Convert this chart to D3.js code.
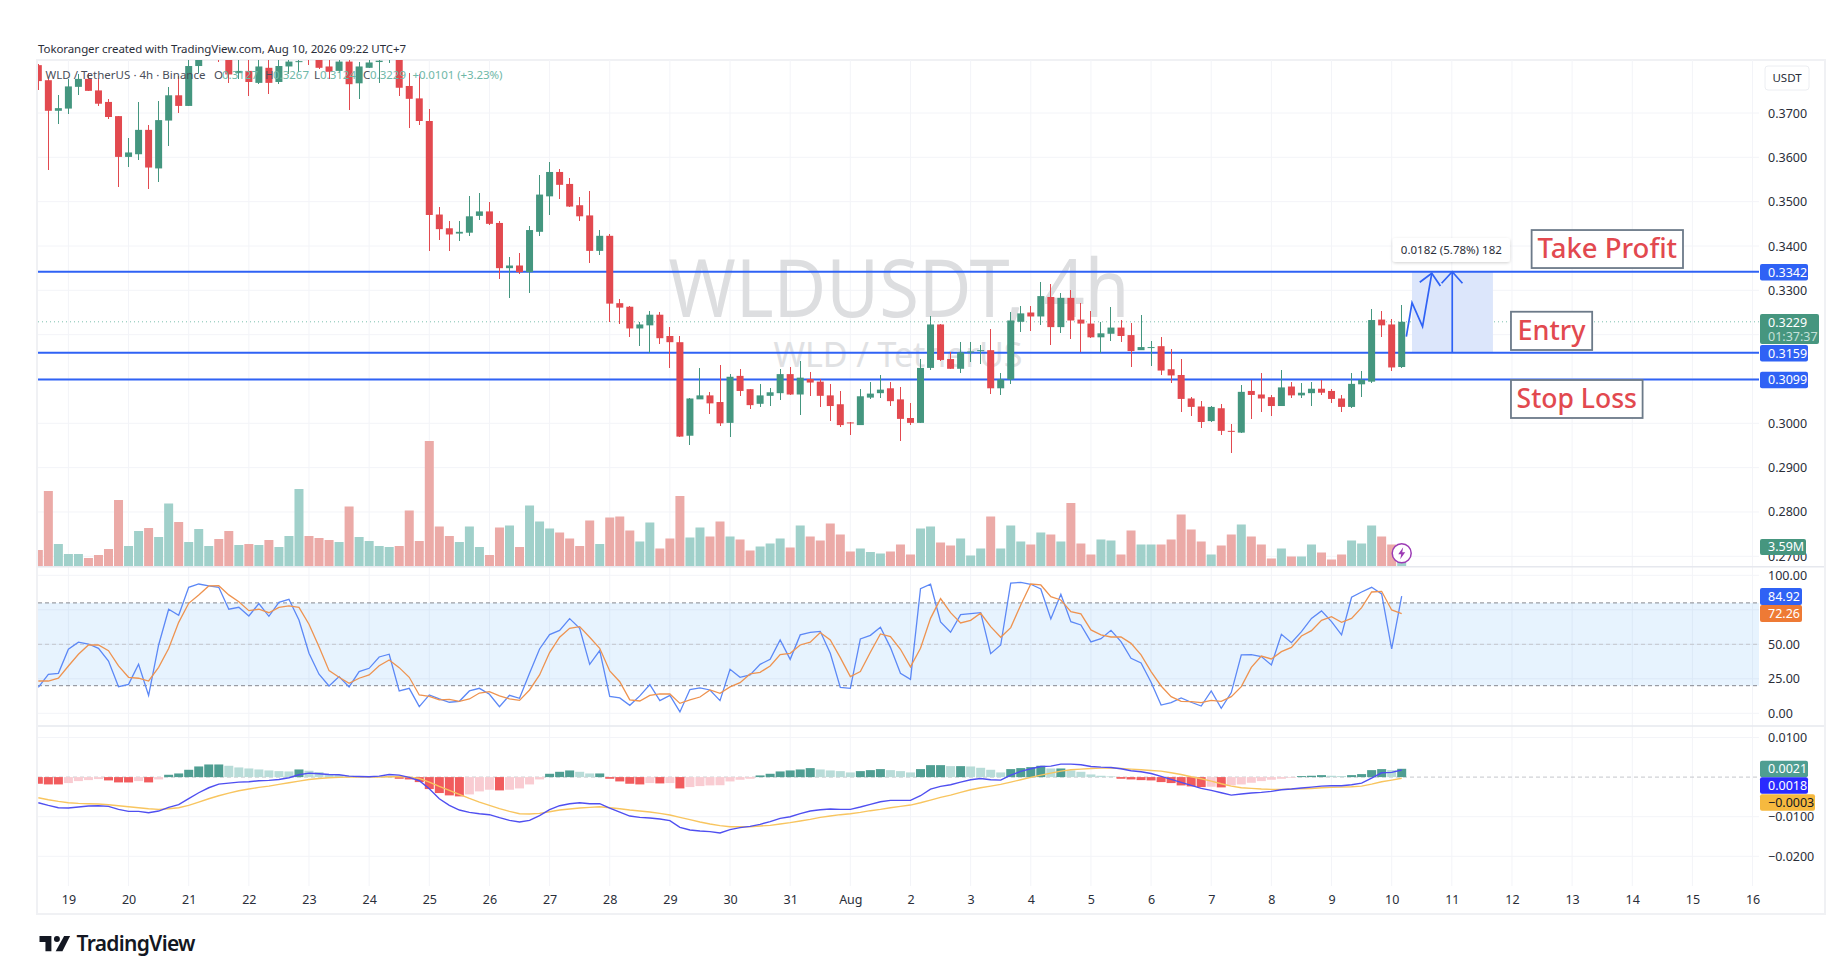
<!DOCTYPE html>
<html>
<head>
<meta charset="utf-8">
<script src="https://cdnjs.cloudflare.com/ajax/libs/d3/7.8.5/d3.min.js"></script>
<style>
html,body{margin:0;padding:0;background:#fff;overflow:hidden}
svg{display:block}
text{font-family:"Noto Sans",sans-serif}
</style>
</head>
<body>
<svg id="c" width="1838" height="974"></svg>
<script>
const opens=[.3808,.3774,.3705,.3710,.3759,.3777,.3751,.3725,.3693,.3601,.3607,.3662,.3575,.3683,.3740,.3716,.3806,.3830,.3835,.3825,.3790,.3795,.3768,.3802,.3770,.3805,.3815,.3835,.3830,.3805,.3795,.3816,.3767,.3802,.3815,.3825,.3835,.3761,.3733,.3682,.3471,.3440,.3428,.3430,.3468,.3478,.3452,.3350,.3356,.3341,.3432,.3512,.3567,.3540,.3492,.3469,.3389,.3423,.3271,.3263,.3214,.3221,.3245,.3197,.3183,.2972,.3054,.3063,.3048,.3001,.3107,.3077,.3044,.3062,.3068,.3111,.3065,.3100,.3094,.3063,.3043,.3002,.2996,.3058,.3068,.3079,.3054,.3012,.3001,.3125,.3223,.3145,.3123,.3161,.3163,.3165,.3079,.3099,.3229,.3250,.3241,.3285,.3217,.3283,.3234,.3225,.3194,.3202,.3216,.3199,.3165,.3171,.3174,.3122,.3109,.3056,.3038,.3005,.3034,.2983,.2979,.3073,.3065,.3059,.3039,.3083,.3063,.3068,.3078,.3073,.3056,.3037,.3088,.3094,.3234,.3223,.3127];
const highs=[.3810,.3776,.3740,.3777,.3787,.3791,.3780,.3731,.3693,.3644,.3724,.3673,.3727,.3759,.3783,.3825,.3840,.3850,.3850,.3840,.3825,.3825,.3825,.3825,.3825,.3830,.3825,.3850,.3845,.3825,.3825,.3825,.3815,.3825,.3825,.3840,.3845,.3790,.3787,.3708,.3487,.3456,.3456,.3512,.3520,.3500,.3456,.3376,.3385,.3445,.3560,.3589,.3574,.3553,.3511,.3523,.3436,.3426,.3280,.3265,.3229,.3254,.3250,.3218,.3198,.3056,.3125,.3070,.3132,.3112,.3123,.3077,.3088,.3079,.3123,.3127,.3141,.3116,.3099,.3088,.3074,.3004,.3077,.3094,.3110,.3093,.3081,.3045,.3146,.3243,.3223,.3160,.3183,.3183,.3176,.3212,.3113,.3250,.3265,.3265,.3318,.3314,.3293,.3301,.3271,.3253,.3229,.3262,.3233,.3226,.3244,.3186,.3194,.3167,.3144,.3059,.3050,.3038,.3044,.2998,.3087,.3098,.3114,.3064,.3120,.3094,.3090,.3093,.3098,.3077,.3065,.3114,.3118,.3258,.3254,.3235,.3267];
const lows=[.3752,.3572,.3676,.3698,.3741,.3750,.3716,.3687,.3534,.3579,.3594,.3529,.3544,.3625,.3701,.3716,.3790,.3825,.3816,.3768,.3776,.3738,.3765,.3744,.3765,.3787,.3793,.3808,.3800,.3776,.3791,.3707,.3732,.3802,.3768,.3812,.3738,.3667,.3673,.3389,.3414,.3389,.3412,.3423,.3459,.3448,.3326,.3283,.3336,.3295,.3423,.3469,.3505,.3487,.3456,.3362,.3380,.3229,.3223,.3194,.3174,.3158,.3180,.3125,.2968,.2952,.3054,.3021,.2995,.2968,.3062,.3032,.3037,.3039,.3053,.3064,.3019,.3062,.3037,.3005,.2992,.2974,.2996,.3055,.3058,.3039,.2959,.2997,.3001,.3121,.3141,.3123,.3113,.3138,.3134,.3067,.3065,.3088,.3205,.3208,.3222,.3177,.3204,.3190,.3160,.3193,.3158,.3186,.3184,.3128,.3165,.3129,.3108,.3092,.3026,.3017,.2990,.3003,.2974,.2932,.2979,.3010,.3026,.3017,.3038,.3056,.3057,.3039,.3064,.3045,.3026,.3034,.3059,.3090,.3194,.3117,.3124];
const closes=[.3772,.3705,.3711,.3760,.3777,.3750,.3721,.3691,.3601,.3611,.3662,.3577,.3684,.3740,.3716,.3806,.3825,.3840,.3825,.3787,.3795,.3770,.3805,.3768,.3806,.3816,.3817,.3820,.3802,.3793,.3816,.3765,.3805,.3814,.3818,.3830,.3757,.3732,.3682,.3470,.3438,.3426,.3432,.3467,.3478,.3450,.3350,.3356,.3341,.3436,.3516,.3567,.3538,.3489,.3467,.3389,.3423,.3270,.3261,.3214,.3223,.3245,.3192,.3183,.2970,.3056,.3063,.3045,.3000,.3105,.3073,.3041,.3063,.3070,.3111,.3065,.3103,.3092,.3062,.3039,.2996,.3000,.3061,.3067,.3076,.3050,.3010,.3001,.3125,.3223,.3143,.3123,.3160,.3162,.3165,.3079,.3099,.3232,.3248,.3241,.3287,.3217,.3283,.3232,.3225,.3194,.3203,.3216,.3197,.3163,.3172,.3172,.3119,.3108,.3055,.3037,.3003,.3037,.2983,.2981,.3071,.3064,.3056,.3039,.3081,.3063,.3069,.3078,.3069,.3055,.3037,.3089,.3098,.3233,.3221,.3126,.3229];
const volumes=[3.2,15,4.4,2.4,2.4,1.6,2.2,3.4,13.2,4,7,7.6,5.8,12.5,8.8,4.8,7.4,4,5.4,7,4.2,4.4,4.2,5.2,3.8,6,15.4,6,5.6,5.2,4.8,11.9,5.8,5,4,3.8,4,11.1,5,25,7.9,6,4.8,7.9,3.8,2.2,7.7,8.1,3.8,12.1,8.9,7.5,6.7,5.5,4,9.1,4.4,9.7,9.9,7.1,4.9,8.7,3.5,5.5,14,5.7,7.7,5.9,8.9,5.9,5.3,3.1,3.9,4.5,5.5,3.7,8.1,5.9,5.1,8.5,6.3,2.9,3.5,2.8,2.5,2.9,4.3,2.3,7.5,7.9,4.7,4.1,5.5,2.1,3.5,9.9,3.5,8.1,4.9,4.3,6.7,6.3,4.9,12.6,4.5,2.3,5.3,5.1,2.3,7.1,4.3,4.3,4.3,5.3,10.3,7.3,4.9,2.3,4.1,6.3,8.3,5.9,4.3,1.5,3.5,1.9,1.9,4.3,2.7,1.3,2.3,5.1,4.5,8.1,5.9,4.3,3.59];
const stochK=[18.8,28.3,29,46.4,51.5,50.2,47.1,37.9,19.3,21,35.5,13,49.5,75.4,71,91.3,93.7,92.3,91.3,75.4,76.8,70.5,79.5,70.3,80.4,82.6,67.6,43.5,28.3,19.8,26.6,19.1,30.2,32.6,40.8,42.8,16.2,18.1,4.8,13.3,10.4,8,8.7,16.2,18.1,13.8,4.8,13,10.9,29,46.6,57,60.1,68.6,61.6,35.5,45.4,12.3,11.1,5.8,12.6,20.8,9.2,13,1,17.2,18.4,16.9,9.2,31.9,26.1,27.8,35.5,39.1,53.1,39.1,56.8,58.7,59.4,43.5,18.8,18.1,53.9,56.5,62.3,47.8,29,24.6,90.3,93.5,66.2,58.7,71.5,72.2,72.9,43.2,49.5,94.4,94.9,93.5,90.1,68.4,86.2,66.4,64,51.7,54.1,60.1,51.9,39.9,36.5,22.5,6,7.7,11.1,8,5.3,16.2,3.6,15,42.3,42.5,41.1,35,57.2,51.2,59.2,68.8,74.2,66.4,56.8,84.1,87.9,91.3,86.5,46.6,84.92];
const stochD=[23.4,23.4,25.4,34.3,42.8,49.5,49.5,45.4,34.3,26.1,25.4,23.4,33.3,46.9,65.9,79.7,85.8,92.3,92.5,85.8,80.9,74.4,75.4,72.9,76.8,77.8,76.8,64.5,48.3,30.9,26.1,21.7,25.4,27.8,34.5,38.6,33.1,26.1,13.3,12.3,9.7,10.1,8.7,10.4,14.7,15.7,12.6,10.4,9.4,16.9,27.8,44,55.1,61.6,62.8,55.1,47.1,30.7,22.9,9.7,8.9,13,14,14,7.2,9.7,11.8,16.9,14.5,19.1,22.2,28.5,29.7,34.3,42.5,43.5,49.5,51.5,58.5,53.1,40.3,26.6,30.2,44.2,57.5,55.6,46.4,33.6,47.1,68.8,83.1,72.9,65.5,67.4,72.5,62.8,55.1,62.1,78.5,93.7,93,84.5,82.1,73.7,72,60.4,56.8,55.3,55.3,50.7,42.3,30.2,19.8,12.1,8.7,8.5,7.7,9.4,8.7,12.1,19.3,33.3,41.5,39.4,44.7,47.8,56,59.9,67.4,70,65.9,68.8,76.6,87.9,88.4,74.9,72.26];
const macdHist=[-.00168,-.00185,-.00185,-.00151,-.00101,-.00076,-.0005,-.00084,-.00134,-.00135,-.00101,-.00134,-.00059,.00059,.00092,.00185,.00269,.00319,.00319,.00286,.00244,.00218,.00193,.00168,.00151,.00143,.00193,.0016,.00126,.00067,.0005,.00034,.00025,.00025,.00017,.00017,-.00042,-.00059,-.00126,-.00302,-.00403,-.00462,-.00487,-.00437,-.00361,-.00319,-.00336,-.00319,-.00286,-.00185,-.00059,.00084,.00134,.00168,.00134,.00092,.00092,-.00042,-.00109,-.00168,-.00185,-.00151,-.0016,-.00151,-.00286,-.00252,-.00227,-.0021,-.00205,-.00109,-.00067,-.00042,.00042,.00084,.00143,.00168,.00193,.00227,.00193,.00168,.00151,.00118,.00151,.00176,.00202,.00176,.00151,.00118,.00202,.00302,.00302,.00277,.00277,.00269,.00235,.00185,.00118,.00202,.00227,.00252,.00286,.00218,.00218,.00168,.00134,.00067,.00034,.00017,-.00042,-.00059,-.00076,-.00084,-.00126,-.00151,-.0021,-.00235,-.00252,-.00244,-.0026,-.0021,-.00185,-.00143,-.00101,-.00067,-.00042,-.00017,.00025,.00034,.0005,.00034,.00025,.0005,.00076,.00176,.00202,.00176,.0021];
const macdLine=[-.00647,-.00714,-.00773,-.00781,-.00756,-.00731,-.00722,-.00739,-.00815,-.00865,-.00865,-.00899,-.00857,-.00764,-.00697,-.00546,-.00395,-.00269,-.00176,-.00151,-.00126,-.00118,-.00092,-.00084,-.00059,-.00017,.00059,.00101,.00084,.00067,.00059,.00025,.00017,.00008,.00025,.00067,.0005,-.00008,-.00092,-.00294,-.00546,-.00714,-.00832,-.0089,-.00924,-.00949,-.01025,-.01092,-.01134,-.01092,-.00974,-.00823,-.00722,-.00672,-.00647,-.00672,-.00672,-.00781,-.00882,-.00983,-.01016,-.01033,-.01058,-.011,-.01268,-.01336,-.01361,-.01378,-.01411,-.01327,-.01277,-.01243,-.01193,-.01126,-.01042,-.01,-.00924,-.00857,-.00823,-.00806,-.00815,-.00815,-.00756,-.00689,-.00622,-.00588,-.00588,-.00588,-.0047,-.00302,-.00235,-.00193,-.00126,-.00067,-.00034,-.00067,-.00076,.0005,.00143,.0021,.00269,.00277,.00328,.00328,.00311,.00269,.00252,.00244,.0021,.0016,.00134,.00092,.00017,-.00059,-.00134,-.0021,-.00286,-.00336,-.00395,-.00454,-.00428,-.00403,-.00386,-.00361,-.00319,-.00302,-.00277,-.00252,-.00227,-.00218,-.00218,-.00193,-.00151,-.00025,.00109,.00118,.0018];
const signalLine=[-.00521,-.00571,-.00613,-.00647,-.00664,-.00672,-.0068,-.00697,-.00722,-.00748,-.00773,-.00798,-.00815,-.00798,-.00773,-.00714,-.0063,-.00546,-.0047,-.00403,-.00344,-.00302,-.0026,-.00227,-.00185,-.00143,-.00101,-.00059,-.00034,-.00017,-.00008,0,0,0,0,.00008,.00017,0,-.00034,-.00126,-.00235,-.00336,-.00437,-.00538,-.0063,-.00714,-.00798,-.00865,-.00924,-.00932,-.00916,-.00874,-.00832,-.00806,-.00781,-.00764,-.00748,-.00773,-.00798,-.00832,-.00857,-.00882,-.00916,-.00958,-.01016,-.01075,-.01134,-.01184,-.01226,-.01252,-.01252,-.01252,-.01235,-.01218,-.01184,-.01151,-.01109,-.01067,-.01016,-.00983,-.00949,-.00924,-.0089,-.00848,-.00815,-.00773,-.00739,-.00706,-.00647,-.0058,-.00512,-.00454,-.00386,-.00319,-.00269,-.00227,-.00185,-.00126,-.00067,-.00008,.0005,.00101,.00151,.00185,.00202,.00218,.00227,.00227,.00218,.00202,.00185,.00168,.00151,.00109,.00067,.00008,-.00042,-.00101,-.00168,-.00227,-.00269,-.00286,-.00302,-.00311,-.00311,-.00302,-.00294,-.00286,-.00269,-.0026,-.00252,-.00244,-.00227,-.00176,-.00118,-.00076,-.0003];

const dayLabels=["19","20","21","22","23","24","25","26","27","28","29","30","31","Aug","2","3","4","5","6","7","8","9","10","11","12","13","14","15","16"];
const priceTicks=[.37,.36,.35,.34,.33,.32,.31,.30,.29,.28,.27];
const priceLabels=[.37,.36,.35,.34,.33,.30,.29,.28,.27];
const stochTicks=[100,75,50,25,0];
const stochLabels=[100,50,25,0];
const macdTicks=[.01,-.01,-.02];
const levels=[.3342,.3159,.3099];
const lastPrice=.3229;
const notes=[{t:"Take Profit",fs:27.5,i0:148.96,i1:164.06,p0:.3436,p1:.33503},{t:"Entry",fs:27,i0:146.9,i1:155,p0:.32517,p1:.31654},{t:"Stop Loss",fs:26.5,i0:146.9,i1:160.03,p0:.30977,p1:.3012}];
const zigzag=[[136.46,.31954],[137.03,.3272],[138.08,.3218],[139,.33384]];
const zigHead=[[137.8,.33181],[139,.33384],[139.86,.33097]];
const arrowShaft=[[141.04,.3159],[141.04,.3342]];
const arrowHead=[[139.98,.3316],[141.04,.3342],[142.06,.3316]];

const UP="#44967f",DOWN="#e2494f",BLUE="#2f62f5",GRID="#f3f4f8";
const svg=d3.select("#c");
const L=38,R=1759;
const x=d3.scaleLinear().domain([3,136]).range([68.4,1401.7]);
const y=d3.scaleLinear().domain([.27,.34]).range([556.3,246]);
const yVol=d3.scaleLinear().domain([0,25]).range([566,441]);
const yS=d3.scaleLinear().domain([0,100]).range([713.3,575.3]);
const yM=d3.scaleLinear().domain([-.02,.01]).range([856.3,737.5]);
const idx=d3.range(opens.length);

// clip regions
const defs=svg.append("defs");
defs.append("clipPath").attr("id","cm").append("rect").attr("x",L).attr("y",60).attr("width",R-L).attr("height",506);
defs.append("clipPath").attr("id","cs").append("rect").attr("x",L).attr("y",567).attr("width",R-L).attr("height",159);
defs.append("clipPath").attr("id","cd").append("rect").attr("x",L).attr("y",727).attr("width",R-L).attr("height",159);
const sh=defs.append("filter").attr("id","sh").attr("x","-20%").attr("y","-30%").attr("width","140%").attr("height","170%");
sh.append("feDropShadow").attr("dx",0).attr("dy",1).attr("stdDeviation",1.5).attr("flood-color","#000").attr("flood-opacity",.18);

// frame
svg.append("rect").attr("x",37).attr("y",60).attr("width",1788).attr("height",854).attr("fill","#fff").attr("stroke","#f0f1f4").attr("stroke-width",2);

// grid
const grid=svg.append("g").attr("stroke",GRID).attr("stroke-width",1);
const dayIdx=dayLabels.map((d,k)=>3+6*k);
grid.selectAll(".v").data(dayIdx).join("line").attr("x1",d=>x(d)).attr("x2",d=>x(d)).attr("y1",60).attr("y2",886);
grid.selectAll(".h").data(priceTicks).join("line").attr("x1",L).attr("x2",R).attr("y1",d=>y(d)).attr("y2",d=>y(d));
grid.selectAll(".s").data(stochTicks).join("line").attr("x1",L).attr("x2",R).attr("y1",d=>yS(d)).attr("y2",d=>yS(d));
grid.selectAll(".m").data(macdTicks).join("line").attr("x1",L).attr("x2",R).attr("y1",d=>yM(d)).attr("y2",d=>yM(d));

// pane separators
svg.append("line").attr("x1",L).attr("x2",1824).attr("y1",566.7).attr("y2",566.7).attr("stroke","#e6e8ee").attr("stroke-width",1.4);
svg.append("line").attr("x1",L).attr("x2",1824).attr("y1",726).attr("y2",726).attr("stroke","#e6e8ee").attr("stroke-width",1.4);

// watermark
svg.append("text").attr("x",899).attr("y",317).attr("text-anchor","middle").attr("font-size",80).attr("fill","#dddee0").attr("textLength",461).attr("lengthAdjust","spacingAndGlyphs").text("WLDUSDT, 4h");
svg.append("text").attr("x",898).attr("y",367).attr("text-anchor","middle").attr("font-size",34).attr("fill","#e0e1e3").attr("textLength",249).attr("lengthAdjust","spacing").text("WLD / TetherUS");

// main pane
const main=svg.append("g").attr("clip-path","url(#cm)");
main.selectAll(".vol").data(idx).join("rect").attr("x",d=>x(d)-4.5).attr("width",9)
  .attr("y",d=>yVol(volumes[d])).attr("height",d=>yVol(0)-yVol(volumes[d]))
  .attr("fill",d=>closes[d]>=opens[d]?"#a0d0ca":"#ebaaa7");
main.append("line").attr("x1",L).attr("x2",R).attr("y1",y(lastPrice)).attr("y2",y(lastPrice)).attr("stroke","#7dbfae").attr("stroke-width",1).attr("stroke-dasharray","1 3");
// long-position box
main.append("rect").attr("x",x(137.03)).attr("width",x(145.1)-x(137.03)).attr("y",y(levels[0])).attr("height",y(levels[1])-y(levels[0])).attr("fill","#dce6fb");
main.selectAll(".lvl").data(levels).join("line").attr("x1",L).attr("x2",R).attr("y1",d=>y(d)).attr("y2",d=>y(d)).attr("stroke",BLUE).attr("stroke-width",2);
main.append("g").selectAll("line").data(idx).join("line").attr("x1",d=>x(d)).attr("x2",d=>x(d)).attr("y1",d=>y(highs[d])).attr("y2",d=>y(lows[d]))
  .attr("stroke",d=>closes[d]>=opens[d]?UP:DOWN).attr("stroke-width",1).attr("shape-rendering","crispEdges");
main.append("g").selectAll("rect").data(idx).join("rect").attr("x",d=>x(d)-3.5).attr("width",7)
  .attr("y",d=>y(Math.max(opens[d],closes[d]))).attr("height",d=>Math.max(1,Math.abs(y(opens[d])-y(closes[d]))))
  .attr("fill",d=>closes[d]>=opens[d]?UP:DOWN);
const ln=d3.line().x(d=>x(d[0])).y(d=>y(d[1]));
[zigzag,zigHead,arrowShaft,arrowHead].forEach(p=>main.append("path").attr("d",ln(p)).attr("fill","none").attr("stroke",BLUE).attr("stroke-width",1.7));

// notes
notes.forEach(n=>{
  const g=svg.append("g");
  g.append("rect").attr("x",x(n.i0)).attr("y",y(n.p0)).attr("width",x(n.i1)-x(n.i0)).attr("height",y(n.p1)-y(n.p0)).attr("fill","#fff").attr("stroke","#6c7a89").attr("stroke-width",1.8);
  g.append("text").attr("x",(x(n.i0)+x(n.i1))/2).attr("y",(y(n.p0)+y(n.p1))/2+9).attr("text-anchor","middle").attr("font-size",n.fs).attr("font-weight",500).attr("fill",DOWN).text(n.t);
});
// tooltip
svg.append("rect").attr("x",x(135.1)).attr("y",y(.3418)).attr("width",x(146.8)-x(135.1)).attr("height",y(.33639)-y(.3418)).attr("rx",3).attr("fill","#fff").attr("filter","url(#sh)");
svg.append("text").attr("x",(x(135.1)+x(146.8))/2).attr("y",(y(.3418)+y(.33639))/2+4).attr("text-anchor","middle").attr("font-size",11.5).attr("fill","#2a2e39").text("0.0182 (5.78%) 182");

// bolt
const b=svg.append("g").attr("transform",`translate(${x(136)},553.3)`);
b.append("circle").attr("r",9.5).attr("fill","#fff").attr("stroke","#9c3bb5").attr("stroke-width",1.5);
b.append("path").attr("d","M1.5 -6L-3.5 1H-0.5L-1.5 6L3.5 -1H0.5Z").attr("fill","#9c3bb5");

// stoch pane
const st=svg.append("g").attr("clip-path","url(#cs)");
st.append("rect").attr("x",L).attr("width",R-L).attr("y",yS(80)).attr("height",yS(20)-yS(80)).attr("fill","#2196f3").attr("fill-opacity",.11);
[[80,"#85878f"],[50,"#c4c6cc"],[20,"#85878f"]].forEach(([v,c])=>st.append("line").attr("x1",L).attr("x2",R).attr("y1",yS(v)).attr("y2",yS(v)).attr("stroke",c).attr("stroke-width",1).attr("stroke-dasharray","4 3"));
const lnS=a=>d3.line().x((d,i)=>x(i)).y(d=>yS(d))(a);
st.append("path").attr("d",lnS(stochK)).attr("fill","none").attr("stroke","#5c88f6").attr("stroke-width",1.3);
st.append("path").attr("d",lnS(stochD)).attr("fill","none").attr("stroke","#ee9350").attr("stroke-width",1.3);

// macd pane
const md=svg.append("g").attr("clip-path","url(#cd)");
md.append("line").attr("x1",L).attr("x2",R).attr("y1",yM(0)).attr("y2",yM(0)).attr("stroke","#c4c6cc").attr("stroke-dasharray","4 3");
md.selectAll(".hist").data(idx).join("rect").attr("x",d=>x(d)-4.5).attr("width",9)
  .attr("y",d=>Math.min(yM(macdHist[d]),yM(0))).attr("height",d=>Math.abs(yM(macdHist[d])-yM(0)))
  .attr("fill",d=>{const v=macdHist[d],p=d?macdHist[d-1]:v;return v>=0?(v>=p?"#4f9e92":"#b8dcd8"):(v<=p?"#f15b5d":"#f9ccd2");});
const lnM=a=>d3.line().x((d,i)=>x(i)).y(d=>yM(d))(a);
md.append("path").attr("d",lnM(signalLine)).attr("fill","none").attr("stroke","#f8c55f").attr("stroke-width",1.4);
md.append("path").attr("d",lnM(macdLine)).attr("fill","none").attr("stroke","#4f4ff0").attr("stroke-width",1.4);

// axes
function axis(scale,vals,fmt){
  const g=svg.append("g").attr("transform","translate(1768,0)").call(d3.axisRight(scale).tickValues(vals).tickFormat(fmt).tickSize(0).tickPadding(0));
  g.select(".domain").remove();
  g.selectAll("text").attr("font-size",12.5).attr("fill","#2a2e39").style("font-family",'"Noto Sans",sans-serif');
}
const minus=f=>d=>f(d).replace("-","\u2212");
axis(y,priceLabels,d3.format(".4f"));
axis(yS,stochLabels,d3.format(".2f"));
axis(yM,macdTicks,minus(d3.format(".4f")));
const tx=svg.append("g").attr("transform","translate(0,895)").call(d3.axisBottom(x).tickValues(dayIdx).tickFormat((d,k)=>dayLabels[k]).tickSize(0).tickPadding(0));
tx.select(".domain").remove();
tx.selectAll("text").attr("font-size",12.5).attr("fill","#2a2e39").style("font-family",'"Noto Sans",sans-serif');

// value tags
function tag(y0,h,w,fill,txt,color){
  svg.append("rect").attr("x",1760).attr("y",y0-h/2).attr("width",w).attr("height",h).attr("rx",2).attr("fill",fill);
  svg.append("text").attr("x",1768).attr("y",y0+4.4).attr("font-size",12.5).attr("fill",color).text(txt);
}
levels.forEach(v=>tag(y(v)+.5,16.5,48,BLUE,d3.format(".4f")(v),"#fff"));
svg.append("rect").attr("x",1760).attr("y",314).attr("width",59).attr("height",30).attr("rx",2).attr("fill","#46967f");
svg.append("text").attr("x",1768).attr("y",326.5).attr("font-size",12.5).attr("fill","#fff").text("0.3229");
svg.append("text").attr("x",1768).attr("y",340.5).attr("font-size",12.5).attr("fill","#c4e0d8").text("01:37:37");
tag(547,16,46,"#46967f","3.59M","#fff");
tag(596.5,17,42,BLUE,"84.92","#fff");
tag(613.5,17,42,"#ee7a35","72.26","#fff");
tag(769,16.5,48,"#4f9e92","0.0021","#fff");
tag(785.5,16.5,48,"#2a2aff","0.0018","#fff");
tag(802.5,16.5,55,"#f6b93f","\u22120.0003","#131722");

// USDT box
svg.append("rect").attr("x",1765).attr("y",66).attr("width",44).attr("height",24).attr("rx",3).attr("fill","#fff").attr("stroke","#eceef2");
svg.append("text").attr("x",1787).attr("y",82).attr("text-anchor","middle").attr("font-size",11.5).attr("fill","#2a2e39").text("USDT");

// header
svg.append("text").attr("x",38).attr("y",53).attr("font-size",11.5).attr("fill","#2a2e39").attr("textLength",368).text("Tokoranger created with TradingView.com, Aug 10, 2026 09:22 UTC+7");
const LEG="#6fb8a8",DK="#4a4e59";
const leg=(xx,t,c,len)=>{const e=svg.append("text").attr("x",xx).attr("y",79).attr("font-size",11.5).attr("fill",c).text(t);if(len)e.attr("textLength",len);};
leg(45.5,"WLD / TetherUS \u00b7 4h \u00b7 Binance",DK,160);
leg(214,"O",DK);leg(222,"0.3127",LEG);
leg(265,"H",DK);leg(273,"0.3267",LEG);
leg(314,"L",DK);leg(320,"0.3124",LEG);
leg(363,"C",DK);leg(370,"0.3229",LEG);
leg(412.4,"+0.0101 (+3.23%)",LEG,90);

// logo
const lg=svg.append("g").attr("transform","translate(39.5,936) scale(.85)").attr("fill","#131722");
lg.append("path").attr("d","M14 18H7V7H0V0h14z");
lg.append("circle").attr("cx",20.5).attr("cy",3.5).attr("r",3.5);
lg.append("path").attr("d","M29 0h7L27 18h-8z");
svg.append("text").attr("x",76.5).attr("y",951).attr("font-size",21).attr("font-weight",600).attr("fill","#131722").attr("textLength",119).attr("font-family","Inter").text("TradingView");
</script>
</body>
</html>
